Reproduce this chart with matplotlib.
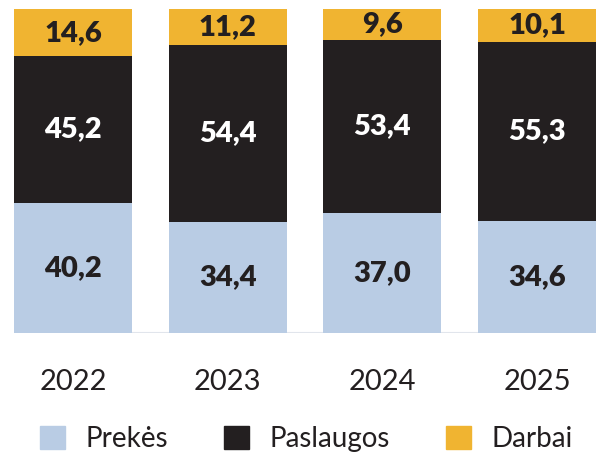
import matplotlib.pyplot as plt
from matplotlib.patches import Patch

# Duomenys
years = ["2022", "2023", "2024", "2025"]
prekes = [40.2, 34.4, 37.0, 34.6]
paslaugos = [45.2, 54.4, 53.4, 55.3]
darbai = [14.6, 11.2, 9.6, 10.1]
series_names = ["Prekės", "Paslaugos", "Darbai"]

colors = ["#b9cce4", "#231f20", "#f0b431"]
label_colors = ["#231f20", "white", "#231f20"]

plt.rcParams['font.family'] = ['Lato', 'DejaVu Sans']

fig = plt.figure(figsize=(5.96, 4.54), dpi=100)
ax = fig.add_axes([0, (454 - 333) / 454, 1, (333 - 9) / 454])

x = list(range(len(years)))
bottom = [0] * len(years)
for vals, col, lcol in zip([prekes, paslaugos, darbai], colors, label_colors):
    ax.bar(x, vals, width=0.763, bottom=bottom, color=col, zorder=2)
    for xi, b, v in zip(x, bottom, vals):
        ax.text(xi, b + v / 2, f"{v:.1f}".replace(".", ","), ha='center', va='center',
                color=lcol, fontsize=21, fontweight='heavy', zorder=3)
    bottom = [b + v for b, v in zip(bottom, vals)]

ax.axhline(0, xmin=35 / 596, xmax=575 / 596, color="#e1e5ec", lw=1.5, zorder=1)

ax.set_xlim(-0.472, 3.381)
ax.set_ylim(0, 100)
ax.set_xticks(x)
ax.set_xticklabels(years, fontsize=21, fontweight='normal', color="#231f20")
ax.tick_params(axis='x', length=0, pad=26)
ax.set_yticks([])
for s in ax.spines.values():
    s.set_visible(False)

handles = [Patch(color=c) for c in colors]
fig.legend(handles, series_names, loc='lower left', bbox_to_anchor=(0.025, -0.051), ncol=3,
           frameon=False, prop={'weight': 'normal', 'size': 20},
           handlelength=0.9, handleheight=0.9, handletextpad=0.75, columnspacing=2.0,
           labelcolor="#231f20")

fig.savefig("out.png", dpi=100)
